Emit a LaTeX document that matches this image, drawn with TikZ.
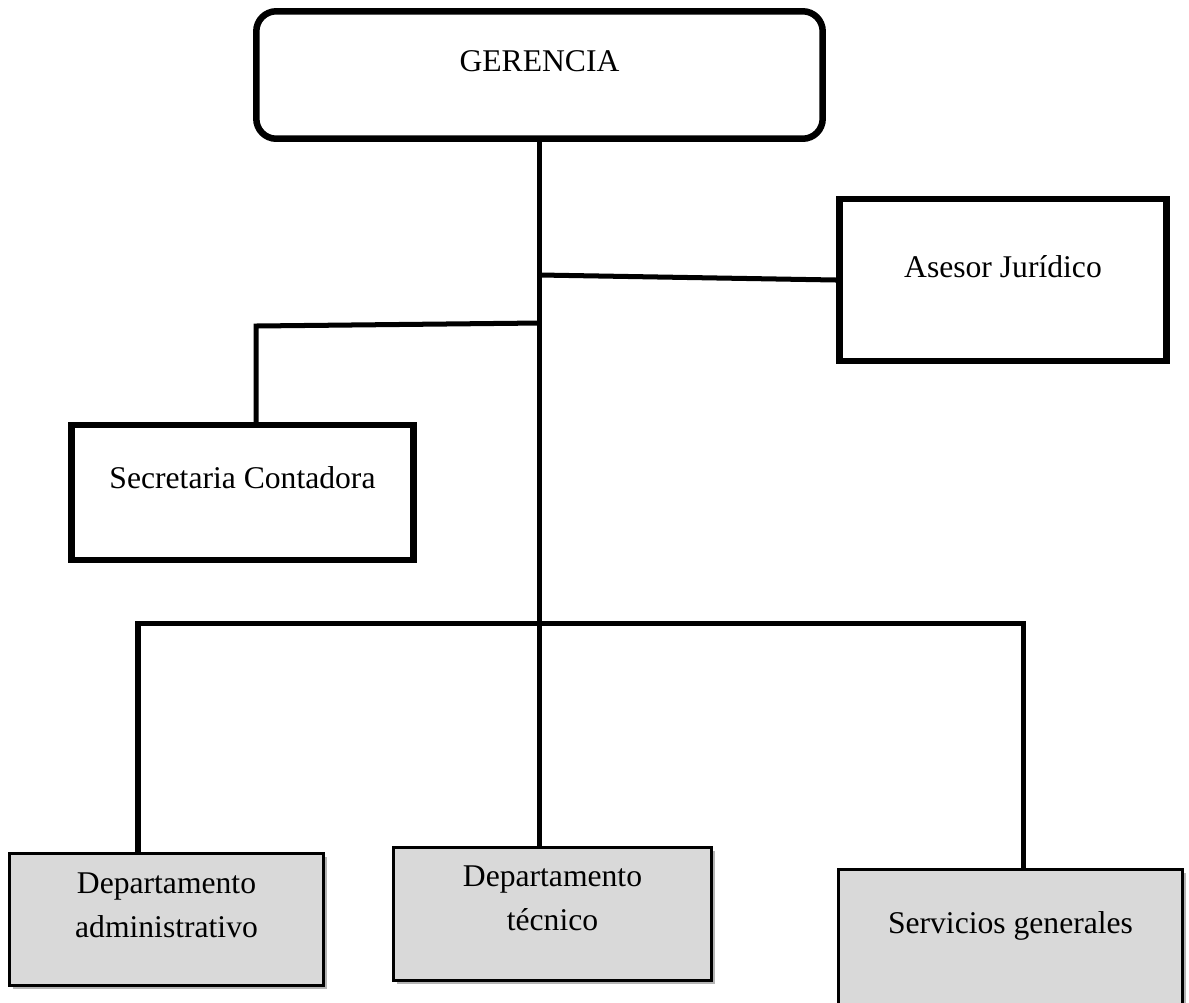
\documentclass[tikz,border=0pt]{standalone}
\usepackage{fontspec}
\setmainfont{Liberation Serif}
\usepackage{tikz}
\usetikzlibrary{positioning,shadows}
\definecolor{deptGray}{HTML}{D9D9D9}
\definecolor{shadowGray}{HTML}{B4B4B4}

\begin{document}
\begin{tikzpicture}[x=0.02cm, y=-0.02cm,
  every node/.style={font=\fontsize{18}{25}\selectfont, text height=0.45cm},
  head/.style={rectangle, rounded corners=0.4cm, draw=black, line width=3.7pt, fill=white, minimum width=11.33cm, minimum height=2.55cm, align=center},
  staff/.style={rectangle, draw=black, line width=3.7pt, fill=white, align=center},
  dept/.style={rectangle, draw=black, line width=1.7pt, fill=deptGray, align=center,
    drop shadow={shadow xshift=0.07cm, shadow yshift=-0.07cm, fill=shadowGray, opacity=1}},
  link/.style={line width=2.85pt, draw=black}
]
\clip (0,0) rectangle (1189,1002);
\node[head, text depth=0.61cm] (ger) at (539.5,75) {GERENCIA};
\node[staff, minimum width=6.55cm, minimum height=3.25cm, text depth=0.57cm] (asesor) at (1003,280) {Asesor Jurídico};
\node[staff, minimum width=6.85cm, minimum height=2.7cm, text depth=0.63cm] (secre) at (242.5,492.5) {Secretaria Contadora};
\node[dept, minimum width=6.3cm, minimum height=2.63cm, text height=0.7cm, text depth=0cm] (adm) at (166.5,919.5) {Departamento\\administrativo};
\node[dept, minimum width=6.35cm, minimum height=2.65cm, text height=0.64cm, text depth=0cm] (tec) at (552.5,914) {Departamento\\técnico};
\node[dept, minimum width=6.87cm, minimum height=2.8cm, text depth=0.69cm] (serv) at (1010.5,939) {Servicios generales};
% ramas
\coordinate (jur) at (540,275);
\coordinate (sec) at (540,323);
\coordinate (seck) at (256,326);
\coordinate (busl) at (138,623);
\coordinate (busr) at (1023,623);
\draw[link] (jur) -- (asesor.west);
\draw[link] (sec) -- (seck) -- (seck |- secre.north);
\draw[link] (busl |- adm.north) -- (busl) -- (busr) -- (busr |- serv.north);
\draw[link] (ger.south) -- (ger.south |- tec.north);
\end{tikzpicture}
\end{document}
